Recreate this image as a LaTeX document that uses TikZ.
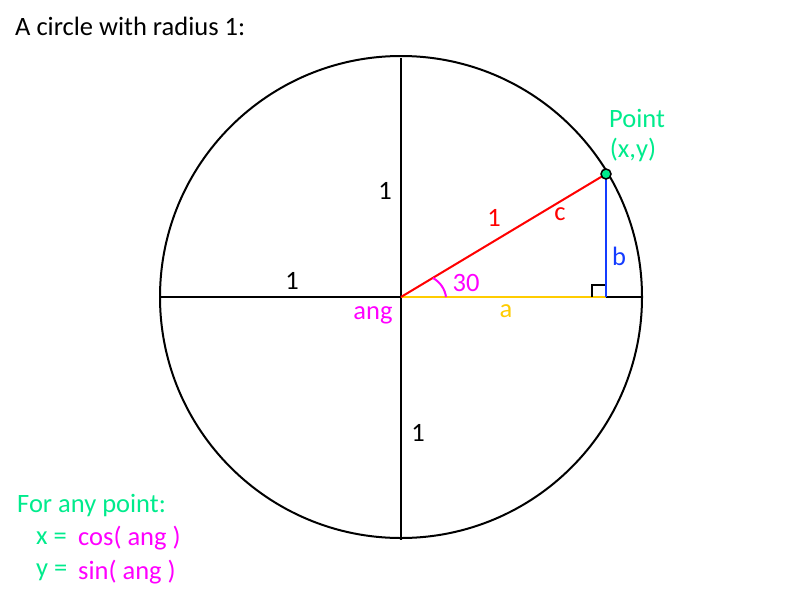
\documentclass[tikz,border=0pt]{standalone}
\usepackage{fontspec}
\setmainfont{Carlito}
\definecolor{ptgreen}{RGB}{0,235,140}
\definecolor{mag}{RGB}{255,0,255}
\definecolor{bl}{RGB}{20,60,255}
\definecolor{yl}{RGB}{255,204,0}
\begin{document}
\begin{tikzpicture}[x=1pt,y=-1pt,
  lbl/.style={inner sep=0pt,font=\fontsize{26.5}{30}\selectfont},
  ax/.style={line width=2pt,black}]
\useasboundingbox (0,0) rectangle (800,600);
\coordinate (O) at (401,297);
\coordinate (L) at (161,297);
\coordinate (R) at (642,297);
\coordinate (T) at (401,58);
\coordinate (B) at (401,540);
\coordinate (F) at (606,297);
\coordinate (A1) at (446,297);
\coordinate (A2) at (433,278);
\draw[line width=2pt] (O) circle (241);
\draw[ax] (L) -- (R);
\draw[ax] (T) -- (B);
\draw[yl,line width=2.5pt] (O) -- (F);
\draw[black,line width=1.8pt] (592,297) -- (592,285) -- (606,285);
\draw[red,line width=2pt] (O) -- (606,174);
\draw[bl,line width=2pt] (606,174) -- (F);
\draw[mag,line width=2pt] (A1) .. controls (445,289) and (440,282) .. (A2);
\node[circle,draw=black,fill=ptgreen,line width=1.5pt,inner sep=0pt,minimum size=10pt] (P) at (606,174) {};
\node[lbl,anchor=west] (title) at (15,26) {A circle with radius 1:};
\node[lbl] (one1) at (385,191) {1};
\node[lbl] (one2) at (292,281) {1};
\node[lbl] (one3) at (418,433) {1};
\node[lbl,text=red] (onec) at (494,218) {1};
\node[lbl,text=red] (c) at (560,214) {c};
\node[lbl,text=bl] (b) at (619,256) {b};
\node[lbl,text=mag] (ang30) at (466,283) {30};
\node[lbl,text=mag] (ang) at (373,315) {ang};
\node[lbl,text=yl] (a) at (506,311) {a};
\node[lbl,text=ptgreen] (pt) at (637,118) {Point};
\node[lbl,text=ptgreen] (xy) at (633,150) {(x,y)};
\node[lbl,text=ptgreen,anchor=west] (any) at (17,506) {For any point:};
\node[lbl,text=ptgreen,anchor=west] (xe) at (36,538) {x =};
\node[lbl,text=mag,anchor=west] (cos) at (78,538) {cos( ang )};
\node[lbl,text=ptgreen,anchor=west] (ye) at (36,572) {y =};
\node[lbl,text=mag,anchor=west] (sin) at (78,572) {sin( ang )};
\end{tikzpicture}
\end{document}
